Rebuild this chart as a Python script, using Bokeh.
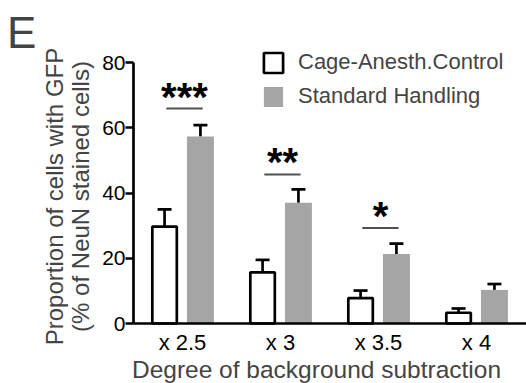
import math
from bokeh.plotting import figure
from bokeh.models import (ColumnDataSource, Range1d, FixedTicker, Label, Legend, LegendItem,
                          Whisker, TeeHead, LinearAxis)
from bokeh.embed import file_html
from bokeh.resources import INLINE
from bokeh.core.properties import value

# ---- data ----
categories = ["x 2.5", "x 3", "x 3.5", "x 4"]
series_names = ["Cage-Anesth.Control", "Standard Handling"]
control_mean = [29.7, 15.7, 7.8, 3.3]
control_sem = [5.3, 3.8, 2.3, 1.3]
handling_mean = [57.3, 37.0, 21.3, 10.3]
handling_sem = [3.5, 4.1, 3.2, 1.8]
sig_groups = [0, 1, 2]
sig_labels = ["***", "**", "*"]
sig_heights = [65.9, 45.7, 29.3]
y_ticks = [0, 20, 40, 60, 80]
y_max = 80

FONT = "Liberation Sans"
GRAY = "#a5a5a5"

# ---- layout constants (pixels) ----
W, H = 526, 383
AX_LEFT, AX_BOTTOM = 133, 323      # pixel position of the axes corner
PX_X = 98.0                        # pixels per category
PX_Y = 3.2625                      # pixels per y unit

x_start = -0.5 - AX_LEFT / PX_X
x_end = -0.5 + (W - AX_LEFT) / PX_X
y_start = -(H - AX_BOTTOM) / PX_Y
y_end = AX_BOTTOM / PX_Y

idx = list(range(len(categories)))
off = 0.183
xc = [i - off for i in idx]
xh = [i + off for i in idx]

src_c = ColumnDataSource(dict(x=xc, top=control_mean, lo=control_mean,
                              hi=[m + s for m, s in zip(control_mean, control_sem)]))
src_h = ColumnDataSource(dict(x=xh, top=handling_mean, lo=handling_mean,
                              hi=[m + s for m, s in zip(handling_mean, handling_sem)]))

p = figure(width=W, height=H, output_backend="svg", toolbar_location=None,
           x_range=Range1d(x_start, x_end), y_range=Range1d(y_start, y_end),
           x_axis_type=None, y_axis_type=None, min_border=0)
p.outline_line_color = None
p.grid.visible = False
p.background_fill_color = "white"
p.border_fill_color = "white"

for s in (src_c, src_h):
    w = Whisker(base="x", lower="lo", upper="hi", source=s, dimension="height",
                line_color="black", line_width=2.7,
                upper_head=TeeHead(size=14, line_width=2.7, line_color="black"),
                lower_head=None, level="underlay")
    p.add_layout(w)

r_c = p.vbar(x="x", top="top", bottom=0, width=0.25, source=src_c,
             fill_color="white", line_color="black", line_width=2.7)
r_h = p.vbar(x="x", top="top", bottom=0, width=0.275, source=src_h,
             fill_color=GRAY, line_color=None)

# significance lines and stars
sig_x0 = [g - 0.165 for g in sig_groups]
sig_x1 = [g + 0.205 for g in sig_groups]
sig_xm = [(a + b) / 2 for a, b in zip(sig_x0, sig_x1)]
src_s = ColumnDataSource(dict(x0=sig_x0, x1=sig_x1, xm=sig_xm, y=sig_heights, t=sig_labels))
p.segment(x0="x0", y0="y", x1="x1", y1="y", source=src_s, line_color="#505050", line_width=2)
p.text(x="xm", y="y", text="t", source=src_s, text_align="center",
       text_baseline="alphabetic", y_offset=-12, text_font=value(FONT),
       text_font_style="bold", text_font_size="40px", text_color="black")

# axes (fixed at the data origin)
yax = LinearAxis(fixed_location=-0.5, bounds=(0, y_max))
yax.ticker = FixedTicker(ticks=y_ticks)
yax.axis_line_width = 2.7
yax.major_tick_line_width = 2.7
yax.major_tick_out = 8
yax.major_tick_in = 0
yax.minor_tick_line_color = None
yax.major_label_text_font = FONT
yax.major_label_text_font_size = "21px"
yax.major_label_text_color = "black"
yax.major_label_standoff = 0
p.add_layout(yax, "left")

xax = LinearAxis(fixed_location=0, bounds=(-0.5, x_end))
xax.ticker = FixedTicker(ticks=idx)
xax.major_label_overrides = {i: c for i, c in zip(idx, categories)}
xax.axis_line_width = 2.7
xax.major_tick_line_color = None
xax.minor_tick_line_color = None
xax.major_label_text_font = FONT
xax.major_label_text_font_size = "22px"
xax.major_label_text_color = "black"
xax.major_label_standoff = 0
p.add_layout(xax, "below")

# legend
legend = Legend(items=[LegendItem(label=series_names[0], renderers=[r_c]),
                       LegendItem(label=series_names[1], renderers=[r_h])],
                location=(261, H - 109), orientation="vertical",
                glyph_width=24, glyph_height=25, spacing=8, padding=0, margin=0,
                label_standoff=13, label_text_font=FONT, label_text_font_size="22px",
                label_height=25,
                border_line_color=None, background_fill_alpha=0)
p.add_layout(legend, "center")

# texts
p.add_layout(Label(x=6.5, y=H - 31.5, x_units="screen", y_units="screen", text="E",
                   text_font=FONT, text_font_size="44px", text_align="left",
                   text_baseline="alphabetic"))
p.add_layout(Label(x=54, y=H - 196, x_units="screen", y_units="screen",
                   text="Proportion of cells with GFP", angle=math.pi / 2,
                   text_font=FONT, text_font_size="24px", text_align="center",
                   text_baseline="middle"))
p.add_layout(Label(x=80, y=H - 196, x_units="screen", y_units="screen",
                   text="(% of NeuN stained cells)", angle=math.pi / 2,
                   text_font=FONT, text_font_size="24px", text_align="center",
                   text_baseline="middle"))
p.add_layout(Label(x=316, y=14.5, x_units="screen", y_units="screen",
                   text="Degree of background subtraction",
                   text_font=FONT, text_font_size="24.5px", text_align="center",
                   text_baseline="alphabetic"))

open("out.html", "w").write(file_html(p, INLINE))
